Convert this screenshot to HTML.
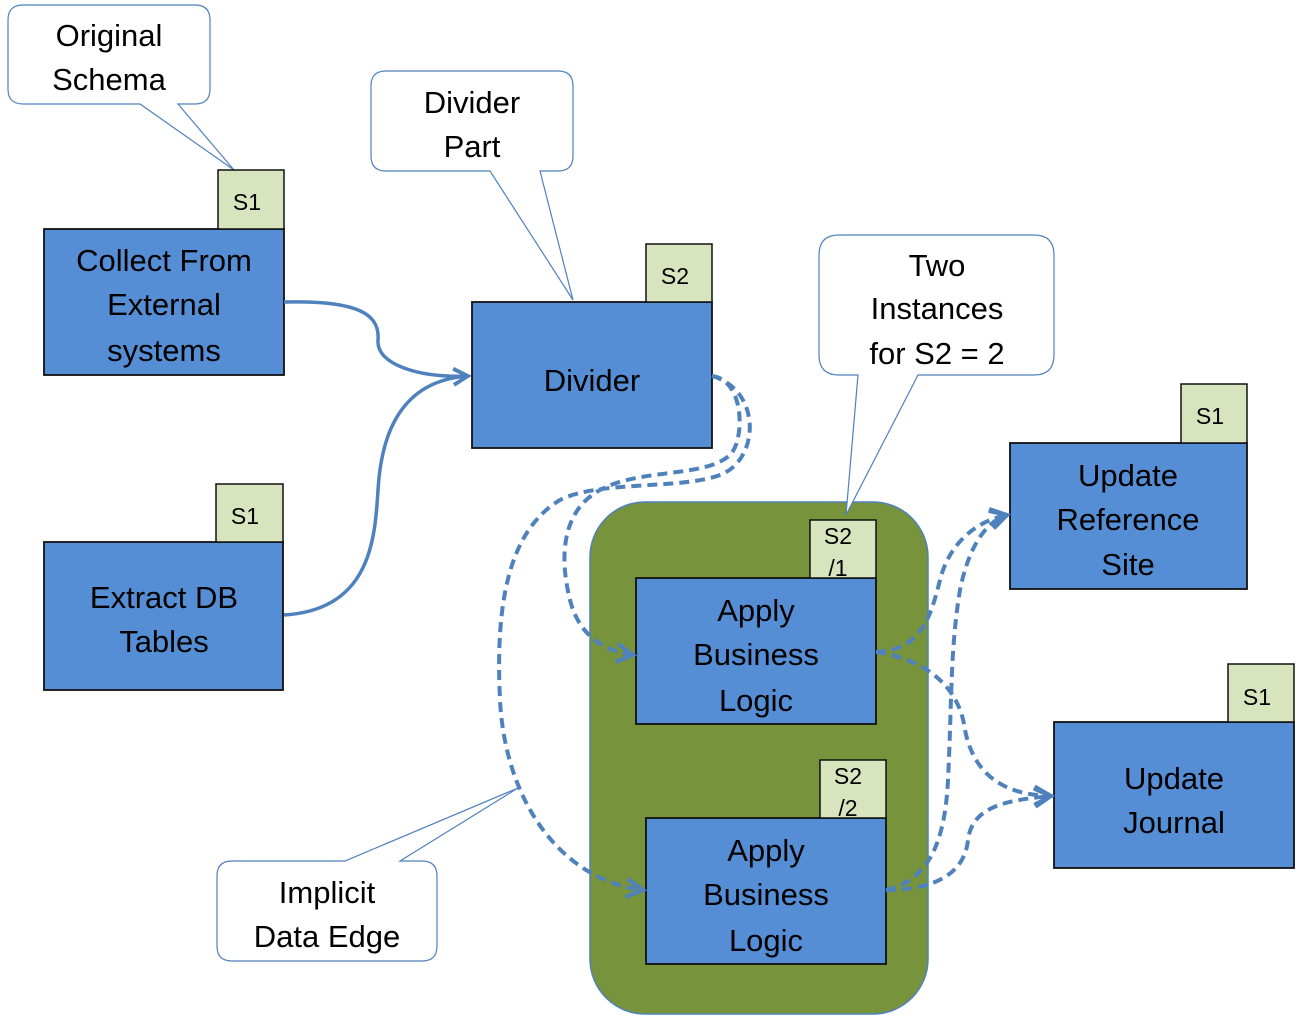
<!DOCTYPE html>
<html><head><meta charset="utf-8"><style>
html,body{margin:0;padding:0;background:#fff;}
svg{display:block;font-family:"Liberation Sans",sans-serif;}
</style></head><body>
<svg width="1302" height="1026" viewBox="0 0 1302 1026" xmlns="http://www.w3.org/2000/svg">
<defs>
<marker id="ar" viewBox="0 0 12 12" refX="10" refY="6" markerWidth="5.5" markerHeight="5.5" orient="auto" markerUnits="strokeWidth">
<polyline points="1,1 10,6 1,11" fill="none" stroke="#4F81BD" stroke-width="2.2"/>
</marker>
</defs>
<rect x="590" y="502" width="338" height="512" rx="55" fill="#77933C" stroke="#4F81BD" stroke-width="1.5"/>

<g fill="#fff" stroke="#4F81BD" stroke-width="1.2">
<path d="M23,5 H195 Q210,5 210,20 V89 Q210,104 195,104 H178 L234,170 L140,104 H23 Q8,104 8,89 V20 Q8,5 23,5 Z"/>
<path d="M386,71 H558 Q573,71 573,86 V156 Q573,171 558,171 H540 L573,300 L490,171 H386 Q371,171 371,156 V86 Q371,71 386,71 Z"/>
<path d="M839,235 H1034 Q1054,235 1054,255 V355 Q1054,375 1034,375 H918 L846,515 L858,375 H839 Q819,375 819,355 V255 Q819,235 839,235 Z"/>
<path d="M232,861 H345 L518,788 L400,861 H422 Q437,861 437,876 V946 Q437,961 422,961 H232 Q217,961 217,946 V876 Q217,861 232,861 Z"/>
</g>
<g font-size="31" text-anchor="middle" fill="#000">
<text x="109" y="46">Original</text><text x="109" y="90">Schema</text>
<text x="472" y="113">Divider</text><text x="472" y="157">Part</text>
<text x="937" y="276">Two</text><text x="937" y="319">Instances</text><text x="937" y="364">for S2 = 2</text>
<text x="327" y="903">Implicit</text><text x="327" y="947">Data Edge</text>
</g>

<g fill="#558ED5" stroke="#111" stroke-width="1.8">
<rect x="44" y="229" width="240" height="146"/>
<rect x="472" y="302" width="240" height="146"/>
<rect x="44" y="542" width="239" height="148"/>
<rect x="636" y="578" width="240" height="146"/>
<rect x="646" y="818" width="240" height="146"/>
<rect x="1010" y="443" width="237" height="146"/>
<rect x="1054" y="722" width="240" height="146"/>
</g>
<g fill="#D7E4BD" stroke="#111" stroke-width="1.5">
<rect x="218" y="170" width="66" height="59"/>
<rect x="646" y="244" width="66" height="58"/>
<rect x="216" y="484" width="67" height="58"/>
<rect x="810" y="520" width="66" height="58"/>
<rect x="820" y="760" width="66" height="58"/>
<rect x="1181" y="384" width="66" height="59"/>
<rect x="1228" y="664" width="66" height="58"/>
</g>
<g font-size="23" text-anchor="middle" fill="#000">
<text x="247" y="210">S1</text>
<text x="675" y="284">S2</text>
<text x="245" y="524">S1</text>
<text x="838" y="544">S2</text><text x="838" y="576">/1</text>
<text x="848" y="784">S2</text><text x="848" y="816">/2</text>
<text x="1210" y="424">S1</text>
<text x="1257" y="705">S1</text>
</g>
<g font-size="31" text-anchor="middle" fill="#000">
<text x="164" y="271">Collect From</text><text x="164" y="315">External</text><text x="164" y="361">systems</text>
<text x="592" y="391">Divider</text>
<text x="164" y="608">Extract DB</text><text x="164" y="652">Tables</text>
<text x="756" y="621">Apply</text><text x="756" y="665">Business</text><text x="756" y="711">Logic</text>
<text x="766" y="861">Apply</text><text x="766" y="905">Business</text><text x="766" y="951">Logic</text>
<text x="1128" y="486">Update</text><text x="1128" y="530">Reference</text><text x="1128" y="575">Site</text>
<text x="1174" y="789">Update</text><text x="1174" y="833">Journal</text>
</g>

<g fill="none" stroke="#4F81BD" stroke-width="3.5" marker-end="url(#ar)">
<path d="M284,302 C360,300 380,315 378,340 C376,365 420,378 468,376"/>
<path d="M284,615 C370,610 375,540 378,490 C382,420 410,380 468,376"/>
</g>
<g fill="none" stroke="#4F81BD" stroke-width="4" stroke-dasharray="10,6" marker-end="url(#ar)">
<path d="M712,376 C745,380 745,440 730,455 C705,478 640,468 600,490 C560,512 560,560 570,600 C580,640 610,652 633,655"/>
<path d="M712,376 C762,390 760,460 720,475 C680,490 600,480 560,500 C510,530 495,600 500,700 C505,800 560,880 643,890"/>
<path d="M876,652 C920,650 930,620 940,580 C950,540 980,520 1007,515"/>
<path d="M876,652 C930,660 960,690 965,730 C975,780 1010,795 1051,796"/>
<path d="M886,890 C930,880 945,840 948,780 C952,700 950,650 960,590 C970,540 990,520 1007,515"/>
<path d="M886,890 C940,890 965,870 968,840 C972,805 1010,800 1051,796"/>
</g>
</svg>
</body></html>
